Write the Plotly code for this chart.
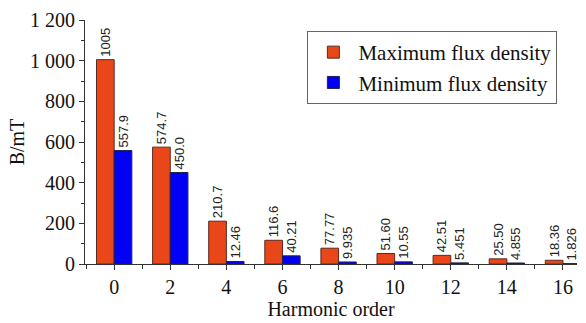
import plotly.graph_objects as go

orders = [0, 2, 4, 6, 8, 10, 12, 14, 16]
max_flux = [1005, 574.7, 210.7, 116.6, 77.77, 51.60, 42.51, 25.50, 18.36]
max_text = ["1005", "574.7", "210.7", "116.6", "77.77", "51.60", "42.51", "25.50", "18.36"]
min_flux = [557.9, 450.0, 12.46, 40.21, 9.935, 10.55, 5.451, 4.855, 1.826]
min_text = ["557.9", "450.0", "12.46", "40.21", "9.935", "10.55", "5.451", "4.855", "1.826"]
y_ticks = [0, 200, 400, 600, 800, 1000, 1200]
y_tick_labels = ["0", "200", "400", "600", "800", "1 000", "1 200"]

serif = "Liberation Serif, Times New Roman, serif"
sans = "Liberation Sans, Arial, sans-serif"

fig = go.Figure()
fig.add_trace(go.Bar(
    x=orders, y=max_flux, name="Maximum flux density",
    marker=dict(color="#E9471A", line=dict(color="#5a2a20", width=1)),
    text=max_text, textposition="outside", textangle=-90, constraintext="none",
    textfont=dict(family=sans, size=13, color="#222"), cliponaxis=False,
))
fig.add_trace(go.Bar(
    x=orders, y=min_flux, name="Minimum flux density",
    marker=dict(color="#0000F5", line=dict(color="#202050", width=1)),
    text=min_text, textposition="outside", textangle=-90, constraintext="none",
    textfont=dict(family=sans, size=13, color="#222"), cliponaxis=False,
))

fig.update_layout(
    width=586, height=323,
    margin=dict(l=85, r=9, t=20, b=59),
    paper_bgcolor="white", plot_bgcolor="white",
    barmode="group", bargap=0.37, bargroupgap=0,
    font=dict(family=serif, size=20, color="#111"),
    showlegend=True,
    legend=dict(
        x=0.452, y=0.955, xanchor="left", yanchor="top",
        bgcolor="white", bordercolor="#666", borderwidth=1,
        font=dict(family=serif, size=21, color="#111"),
        tracegroupgap=0, itemwidth=40,
    ),
    xaxis=dict(
        range=[-1.04, 16.5], tickmode="array", tickvals=orders,
        showline=True, linecolor="#333", linewidth=1,
        ticks="outside", ticklen=5, tickcolor="#333",
        minor=dict(dtick=1, tick0=1, ticks="outside", ticklen=4, tickcolor="#333"),
        showgrid=False, zeroline=False,
        title=dict(text="Harmonic order", standoff=2, font=dict(family=serif, size=20)),
        tickfont=dict(family=serif, size=20),
    ),
    yaxis=dict(
        range=[0, 1200], tickmode="array", tickvals=y_ticks, ticktext=y_tick_labels,
        showline=True, linecolor="#333", linewidth=1,
        ticks="outside", ticklen=5, tickcolor="#333",
        minor=dict(dtick=100, ticks="outside", ticklen=3, tickcolor="#333"),
        showgrid=False, zeroline=False,
        title=dict(text="B/mT", standoff=0, font=dict(family=serif, size=20)),
        tickfont=dict(family=serif, size=20),
    ),
)

fig.write_html("out.html", config={"displayModeBar": False},
               post_script="document.body.style.margin='0';")
